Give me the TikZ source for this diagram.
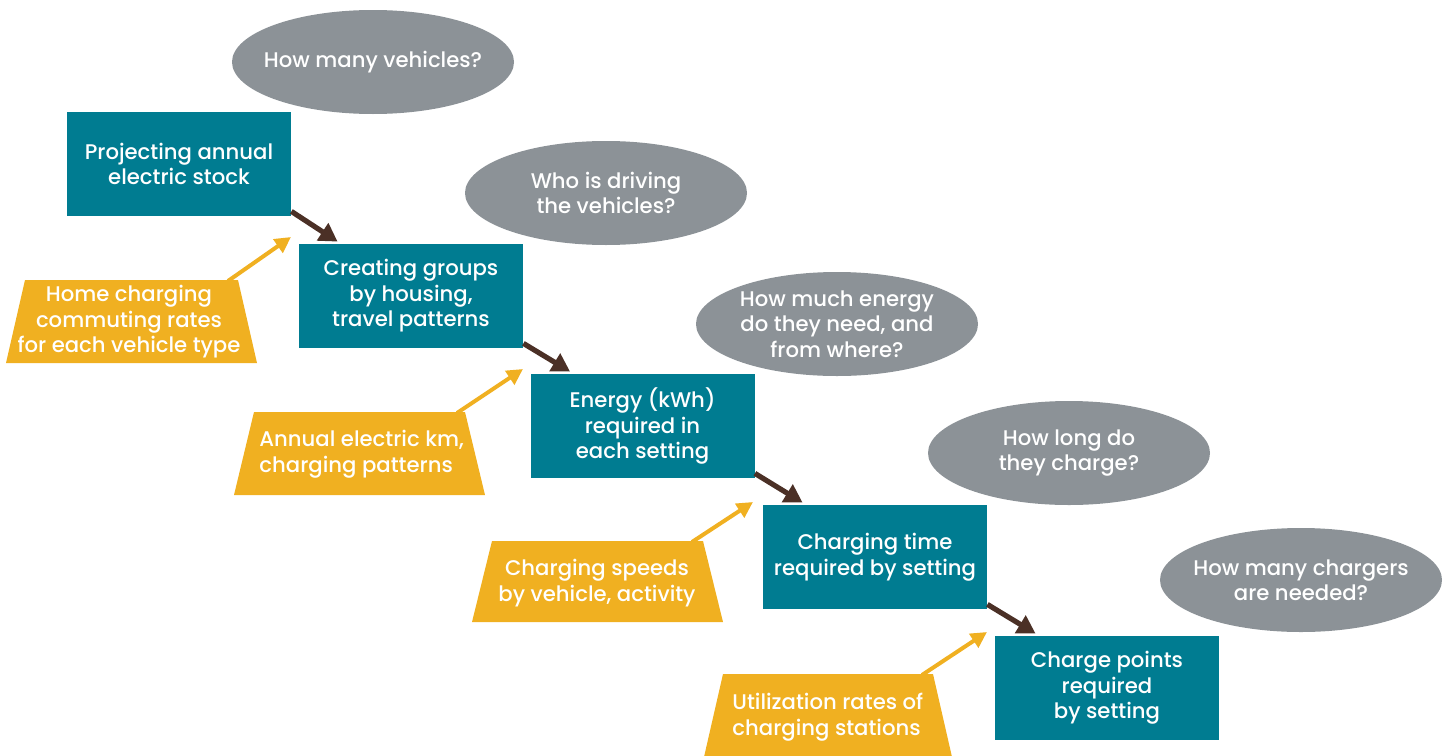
\documentclass[tikz,border=0pt]{standalone}
\usepackage{fontspec}
\setmainfont{Poppins}[UprightFont=* Medium]
\usetikzlibrary{arrows.meta,calc,shapes.geometric}
\definecolor{boxteal}{HTML}{007C91}
\definecolor{qgray}{HTML}{8C9297}
\definecolor{inyellow}{HTML}{F0B021}
\definecolor{arrbrown}{HTML}{4B3026}
\tikzset{
  labelfont/.style={font=\fontsize{10.6}{12.75}\selectfont},
  stepbox/.style={fill=boxteal, text=white, minimum width=112pt, minimum height=52pt, inner sep=0pt, align=center, labelfont},
  question/.style={ellipse, fill=qgray, text=white, minimum width=141pt, minimum height=52pt, inner xsep=-14pt, inner ysep=-4pt, align=center, labelfont},
  inputshape/.style={fill=inyellow},
  inputtext/.style={text=white, inner sep=0pt, labelfont},
  flowarrow/.style={draw=arrbrown, line width=2.6pt, -{Triangle[length=9pt,width=10pt]}},
  inarrow/.style={draw=inyellow, line width=2pt, -{Triangle[length=8pt,width=8pt]}}
}
\begin{document}
\begin{tikzpicture}[x=0.5pt,y=-0.5pt]
\useasboundingbox (0,0) rectangle (1445,755);
% questions
\node[question] (e1) at (373,62) {How many vehicles?};
\node[question] (e2) at (606,193) {Who is driving\\the vehicles?};
\node[question] (e3) at (837,324) {How much energy\\do they need, and\\from where?};
\node[question] (e4) at (1069,453) {How long do\\they charge?};
\node[question] (e5) at (1301,580) {How many chargers\\are needed?};
% steps
\node[stepbox] (b1) at (179,164) {Projecting annual\\electric stock};
\node[stepbox] (b2) at (411,296) {Creating groups\\by housing,\\travel patterns};
\node[stepbox] (b3) at (642.5,426) {Energy (kWh)\\required in\\each setting};
\node[stepbox] (b4) at (875,557) {Charging time\\required by setting};
\node[stepbox] (b5) at (1107,688) {Charge points\\required\\by setting};
% flow arrows
\draw[flowarrow] ($(b1.south east)+(0,-5)$) -- ($(b2.north west)+(39,-2)$);
\draw[flowarrow] ($(b2.south east)+(0,-5)$) -- ($(b3.north west)+(40,-2)$);
\draw[flowarrow] ($(b3.south east)+(0,-5)$) -- ($(b4.north west)+(40,-2)$);
\draw[flowarrow] ($(b4.south east)+(0,-5)$) -- ($(b5.north west)+(41,-2)$);
% inputs
\fill[inputshape] (25,280) -- (238,280) -- (257,363) -- (6,363) -- cycle;
\fill[inputshape] (254,412) -- (465,412) -- (485,495) -- (234,495) -- cycle;
\fill[inputshape] (492,541) -- (703,541) -- (723,622) -- (472,622) -- cycle;
\fill[inputshape] (723,674) -- (933,674) -- (952,757) -- (704,757) -- cycle;
\node[inputtext, align=center] (t1) at (129,322) {Home charging\\commuting rates\\for each vehicle type};
\node[inputtext, align=left, anchor=west] (t2) at (259,454) {Annual electric km,\\charging patterns};
\node[inputtext, align=center] (t3) at (597,583) {Charging speeds\\by vehicle, activity};
\node[inputtext, align=left, anchor=west] (t4) at (732,717) {Utilization rates of\\charging stations};
\coordinate (s1) at (228,281); \coordinate (g1) at (291,237);
\coordinate (s2) at (457,413); \coordinate (g2) at (523,369);
\coordinate (s3) at (692,542); \coordinate (g3) at (753,502);
\coordinate (s4) at (922,675); \coordinate (g4) at (987,632);
\draw[inarrow] (s1) -- (g1);
\draw[inarrow] (s2) -- (g2);
\draw[inarrow] (s3) -- (g3);
\draw[inarrow] (s4) -- (g4);
\end{tikzpicture}
\end{document}
